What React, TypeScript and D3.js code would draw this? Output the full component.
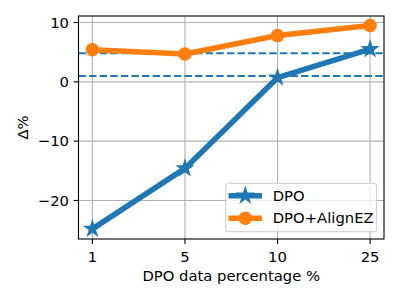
import * as d3 from "d3";

const categories = ["1", "5", "10", "25"];
const dpoValues = [-24.8, -14.6, 0.7, 5.5];
const alignezValues = [5.4, 4.7, 7.8, 9.5];
const refLines = [4.8, 1.0];
const yTicks = [-20, -10, 0, 10];

const W = 400, H = 300;
const mL = 78.5, mR = 384, mT = 16, mB = 239;
const FONT = "DejaVu Sans";
const FS = 14.8;

const App = () => {
  const x = d3.scaleLinear().domain([-0.15, 3.15]).range([mL, mR]);
  const y = d3.scaleLinear().domain([-26.5, 11.1]).range([mB, mT]);

  const line = d3.line<number>()
    .x((_, i) => x(i))
    .y((d) => y(d));

  const star = d3.symbol().type(d3.symbolStar).size(115)() as string;

  const blue = "#1f77b4";
  const orange = "#ff7f0e";

  return (
    <svg width={W} height={H} style={{ position: "absolute", left: 0, top: 0 }} fontFamily={FONT}>
      <rect width={W} height={H} fill="white" />
      <defs>
        <clipPath id="clip">
          <rect x={mL} y={mT} width={mR - mL} height={mB - mT} />
        </clipPath>
      </defs>
      {/* grid */}
      {categories.map((_, i) => (
        <line key={"gx" + i} x1={x(i)} x2={x(i)} y1={mT} y2={mB} stroke="#b0b0b0" strokeWidth={1.1} />
      ))}
      {yTicks.map((t) => (
        <line key={"gy" + t} x1={mL} x2={mR} y1={y(t)} y2={y(t)} stroke="#b0b0b0" strokeWidth={1.1} />
      ))}
      {/* reference dashed lines */}
      {refLines.map((v) => (
        <line key={"r" + v} x1={mL} x2={mR} y1={y(v)} y2={y(v)} stroke={blue} strokeWidth={2} strokeDasharray="7.4,3.2" />
      ))}
      <g clipPath="url(#clip)">
        <path d={line(dpoValues) || ""} fill="none" stroke={blue} strokeWidth={5.5} strokeLinejoin="round" />
        {dpoValues.map((v, i) => (
          <path key={"s" + i} d={star} transform={`translate(${x(i)},${y(v)})`} fill={blue} />
        ))}
        <path d={line(alignezValues) || ""} fill="none" stroke={orange} strokeWidth={5.5} strokeLinejoin="round" />
        {alignezValues.map((v, i) => (
          <circle key={"c" + i} cx={x(i)} cy={y(v)} r={6.8} fill={orange} />
        ))}
      </g>
      {/* frame */}
      <rect x={mL} y={mT} width={mR - mL} height={mB - mT} fill="none" stroke="black" strokeWidth={1.1} />
      {/* x ticks */}
      {categories.map((c, i) => (
        <g key={"xt" + c} transform={`translate(${x(i)},${mB})`}>
          <line y2={4.9} stroke="black" strokeWidth={1.1} />
          <text y={22.5} textAnchor="middle" fontSize={FS} fill="black">{c}</text>
        </g>
      ))}
      {yTicks.map((t) => (
        <g key={"yt" + t} transform={`translate(${mL},${y(t)})`}>
          <line x2={-4.9} stroke="black" strokeWidth={1.1} />
          <text x={-9.5} dy="0.35em" textAnchor="end" fontSize={FS} fill="black">
            {t < 0 ? "\u2212" + Math.abs(t) : String(t)}
          </text>
        </g>
      ))}
      <text x={(mL + mR) / 2} y={280.5} textAnchor="middle" fontSize={FS} fill="black">DPO data percentage %</text>
      <text transform={`translate(27.5,${(mT + mB) / 2}) rotate(-90)`} textAnchor="middle" fontSize={FS} fill="black">Δ%</text>
      {/* legend */}
      <g>
        <rect x={225.7} y={183.3} width={151} height={48.4} rx={3} fill="white" fillOpacity={0.8} stroke="#cccccc" strokeWidth={1} />
        <line x1={228.5} x2={262} y1={195.7} y2={195.7} stroke={blue} strokeWidth={5.5} />
        <path d={star} transform="translate(245.3,195.7)" fill={blue} />
        <text x={272.7} y={195.7} dy="0.35em" fontSize={FS} fill="black">DPO</text>
        <line x1={228.5} x2={262} y1={218.3} y2={218.3} stroke={orange} strokeWidth={5.5} />
        <circle cx={245.3} cy={218.3} r={6.8} fill={orange} />
        <text x={272.7} y={218.3} dy="0.35em" fontSize={FS} fill="black">DPO+AlignEZ</text>
      </g>
    </svg>
  );
};

export default App;
